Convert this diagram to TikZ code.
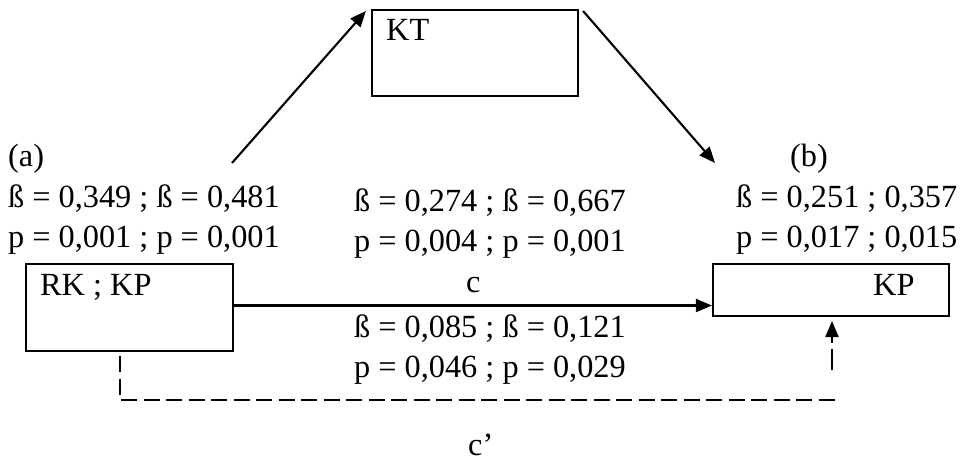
\documentclass[tikz,border=0pt]{standalone}
\usepackage{fontspec}
\setmainfont{Liberation Serif}
\usetikzlibrary{arrows.meta}
\begin{document}
\begin{tikzpicture}[x=1pt,y=-1pt,
  font=\fontsize{32.3}{38}\selectfont,
  boxnode/.style={draw,line width=2.1pt,rectangle,inner sep=0pt},
  txt/.style={inner sep=0pt,anchor=base west},
  arr/.style={line width=2.1pt,-{Triangle[length=16pt,width=13pt]}},
  dsh/.style={line width=2.1pt,dash pattern=on 16pt off 6.5pt}]
\useasboundingbox (0,0) rectangle (961,467);

% boxes
\node[boxnode,minimum width=206pt,minimum height=86pt] (kt) at (475,53) {};
\node[boxnode,minimum width=207pt,minimum height=87pt] (rk) at (129.5,307.5) {};
\node[boxnode,minimum width=236pt,minimum height=52pt] (kp) at (831,290) {};

% box captions
\node[txt] (ktlab) at (386,40) {KT};
\node[txt] (rklab) at (40,295) {RK ; KP};
\node[txt] (kplab) at (873,295) {KP};

% path (a)
\node[txt] (alab) at (8,166) {(a)};
\node[txt] (a1) at (8,207) {ß = 0,349 ; ß = 0,481};
\node[txt] (a2) at (8,247) {p = 0,001 ; p = 0,001};

% path (b)
\node[txt] (blab) at (790,166) {(b)};
\node[txt] (b1) at (736,207) {ß = 0,251 ; 0,357};
\node[txt] (b2) at (736,247) {p = 0,017 ; 0,015};

% total and direct effects
\node[txt] (m1) at (354,211) {ß = 0,274 ; ß = 0,667};
\node[txt] (m2) at (354,251) {p = 0,004 ; p = 0,001};
\node[txt] (clab) at (466,292) {c};
\node[txt] (d1) at (354,337) {ß = 0,085 ; ß = 0,121};
\node[txt] (d2) at (354,377) {p = 0,046 ; p = 0,029};
\node[txt] (cplab) at (468,455) {c’};

% connectors
\coordinate (aup) at (232,163);
\coordinate (bdown) at (715,163);
\draw[arr] (aup) -- ([xshift=-5pt,yshift=-2pt]kt.north west);
\draw[arr] ([xshift=4pt,yshift=-2pt]kt.north east) -- (bdown);
\draw[arr] ([yshift=2pt]rk.east) -- ([yshift=2pt]rk.east -| kp.west);

\coordinate (cl) at (120,400);
\coordinate (cr) at (837,400);
\coordinate (cu) at (832,370);
\draw[dsh] ([yshift=-4pt]rk.south -| cl) -- (cl) -- (cr);
\draw[arr,dash pattern=on 21pt off 6pt on 40pt,shorten >=4pt] (cu) -- (cu |- kp.south);
\end{tikzpicture}
\end{document}
